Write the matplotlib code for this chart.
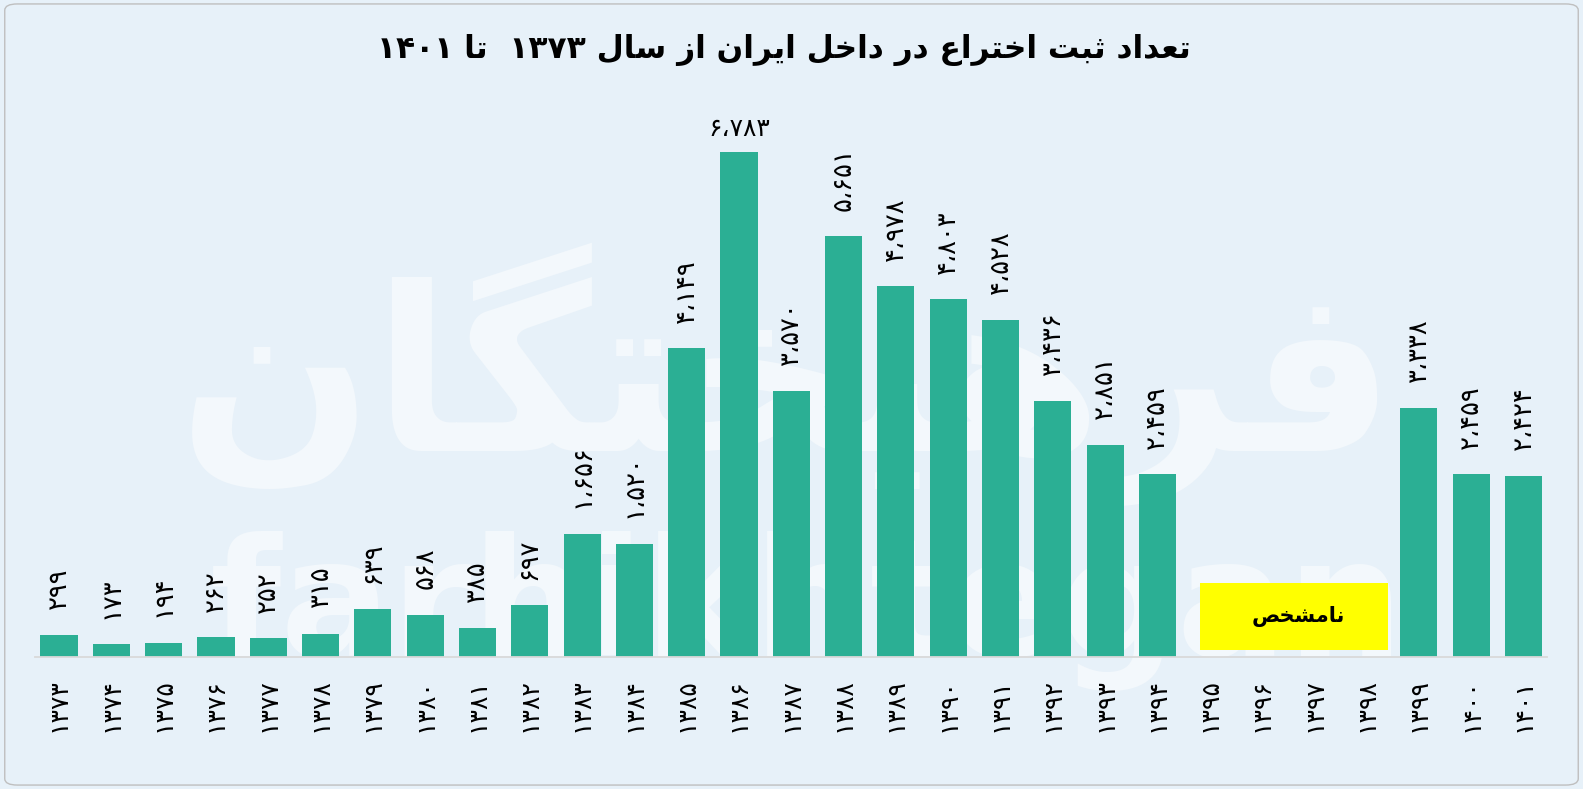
import matplotlib
matplotlib.use("Agg")
import matplotlib.pyplot as plt
from matplotlib.patches import FancyBboxPatch, Rectangle

# ---------------- data ----------------
years = ["۱۳۷۳", "۱۳۷۴", "۱۳۷۵", "۱۳۷۶", "۱۳۷۷", "۱۳۷۸", "۱۳۷۹", "۱۳۸۰", "۱۳۸۱", "۱۳۸۲",
         "۱۳۸۳", "۱۳۸۴", "۱۳۸۵", "۱۳۸۶", "۱۳۸۷", "۱۳۸۸", "۱۳۸۹", "۱۳۹۰", "۱۳۹۱", "۱۳۹۲",
         "۱۳۹۳", "۱۳۹۴", "۱۳۹۵", "۱۳۹۶", "۱۳۹۷", "۱۳۹۸", "۱۳۹۹", "۱۴۰۰", "۱۴۰۱"]
values = [299, 173, 194, 262, 252, 315, 639, 568, 385, 697,
          1656, 1520, 4149, 6783, 3570, 5651, 4978, 4803, 4528, 3436,
          2851, 2459, None, None, None, None, 3338, 2459, 2434]
value_labels = ["۲۹۹", "۱۷۳", "۱۹۴", "۲۶۲", "۲۵۲", "۳۱۵", "۶۳۹", "۵۶۸", "۳۸۵", "۶۹۷",
                "۱،۶۵۶", "۱،۵۲۰", "۴،۱۴۹", "۶،۷۸۳", "۳،۵۷۰", "۵،۶۵۱", "۴،۹۷۸", "۴،۸۰۳", "۴،۵۲۸", "۳،۴۳۶",
                "۲،۸۵۱", "۲،۴۵۹", "", "", "", "", "۳،۳۳۸", "۲،۴۵۹", "۲،۴۲۴"]
title_text = "تعداد ثبت اختراع در داخل ایران از سال ۱۳۷۳  تا ۱۴۰۱"
unknown_text = "نامشخص"
unknown_span = ("۱۳۹۵", "۱۳۹۸")
watermark_fa = "فرهیختگان"
watermark_en = "farhikhtegan"

# ---------------- minimal Persian shaping ----------------
FORMS = {
    'ا': ('\uFE8D', '\uFE8E', None, None),
    'آ': ('\uFE81', '\uFE82', None, None),
    'ب': ('\uFE8F', '\uFE90', '\uFE91', '\uFE92'),
    'ت': ('\uFE95', '\uFE96', '\uFE97', '\uFE98'),
    'ث': ('\uFE99', '\uFE9A', '\uFE9B', '\uFE9C'),
    'ح': ('\uFEA1', '\uFEA2', '\uFEA3', '\uFEA4'),
    'خ': ('\uFEA5', '\uFEA6', '\uFEA7', '\uFEA8'),
    'د': ('\uFEA9', '\uFEAA', None, None),
    'ر': ('\uFEAD', '\uFEAE', None, None),
    'ز': ('\uFEAF', '\uFEB0', None, None),
    'س': ('\uFEB1', '\uFEB2', '\uFEB3', '\uFEB4'),
    'ش': ('\uFEB5', '\uFEB6', '\uFEB7', '\uFEB8'),
    'ص': ('\uFEB9', '\uFEBA', '\uFEBB', '\uFEBC'),
    'ع': ('\uFEC9', '\uFECA', '\uFECB', '\uFECC'),
    'ف': ('\uFED1', '\uFED2', '\uFED3', '\uFED4'),
    'ل': ('\uFEDD', '\uFEDE', '\uFEDF', '\uFEE0'),
    'م': ('\uFEE1', '\uFEE2', '\uFEE3', '\uFEE4'),
    'ن': ('\uFEE5', '\uFEE6', '\uFEE7', '\uFEE8'),
    'ه': ('\uFEE9', '\uFEEA', '\uFEEB', '\uFEEC'),
    'ی': ('\uFBFC', '\uFBFD', '\uFBFE', '\uFBFF'),
    'ک': ('\uFB8E', '\uFB8F', '\uFB90', '\uFB91'),
    'گ': ('\uFB92', '\uFB93', '\uFB94', '\uFB95'),
}


def shape_word(w):
    if not any(c in FORMS for c in w):
        return w
    out = []
    for i, c in enumerate(w):
        if c not in FORMS:
            out.append(c)
            continue
        prev = w[i - 1] if i > 0 else None
        nxt = w[i + 1] if i + 1 < len(w) else None
        jp = prev in FORMS and FORMS[prev][2] is not None
        jn = nxt in FORMS and FORMS[c][2] is not None
        iso, fin, ini, med = FORMS[c]
        if jp and jn:
            out.append(med)
        elif jp:
            out.append(fin)
        elif jn:
            out.append(ini)
        else:
            out.append(iso)
    return ''.join(reversed(out))


def rtl(text):
    return ' '.join(shape_word(w) for w in reversed(text.split(' ')))


# ---------------- figure ----------------
BG = "#E7F1F9"
BAR = "#2BAF94"
WM = "#F3F8FC"
plt.rcParams['font.family'] = ['DejaVu Sans']

fig = plt.figure(figsize=(15.83, 7.89), dpi=100)
fig.patch.set_facecolor(BG)
fig.patches.append(FancyBboxPatch((0.003, 0.005), 0.994, 0.99, boxstyle="round,pad=0,rounding_size=0.008",
                                  transform=fig.transFigure, facecolor="none", edgecolor="#BFBFBF",
                                  linewidth=1.0, zorder=0))

ax = fig.add_axes([0.0221, 0.1673, 0.9552, 0.706])
ax.set_facecolor("none")
x = list(range(len(years)))

# watermark (behind the bars)
ax.text(0.497, 0.525, rtl(watermark_fa), transform=fig.transFigure, fontsize=165, fontweight='bold',
        color=WM, ha='center', va='center', zorder=1)
ax.text(0.51, 0.225, watermark_en, transform=fig.transFigure, fontsize=118, fontweight='bold',
        color=WM, ha='center', va='center', zorder=1)

heights = [v if v is not None else 0 for v in values]
ax.bar(x, heights, width=0.71, color=BAR, zorder=2)

ymax = 7480
ax.set_ylim(0, ymax)
ax.set_xlim(-0.46, 28.45)

vmax = max(v for v in values if v is not None)
for xi, v, lab in zip(x, values, value_labels):
    if v is None:
        continue
    if v == vmax:
        ax.text(xi, v + 140, lab, ha='center', va='bottom', fontsize=18, color='black', zorder=3)
    else:
        ax.text(xi, v + 340, lab, ha='center', va='bottom', rotation=90, fontsize=18.5,
                color='black', zorder=3)

# unknown box
i0 = years.index(unknown_span[0])
i1 = years.index(unknown_span[1])
box = Rectangle((i0 - 0.18, 94), (i1 - i0) + 0.59, 900, facecolor='#FFFF00', edgecolor='none', zorder=2.5)
ax.add_patch(box)
ax.text((i0 + i1) / 2 + 0.2, 545, rtl(unknown_text), ha='center', va='center', fontsize=15,
        fontweight='bold', color='black', zorder=3)

ax.set_xticks(x)
ax.set_xticklabels(years, rotation=90, fontsize=18, va='top', ha='center')
ax.tick_params(axis='x', length=0, pad=15)
ax.set_yticks([])
for s in ['left', 'right', 'top']:
    ax.spines[s].set_visible(False)
ax.spines['bottom'].set_color('#D9D9D9')
ax.spines['bottom'].set_linewidth(1.3)

fig.text(0.495, 0.937, rtl(title_text), ha='center', va='center', fontsize=22.5, fontweight='bold',
         color='black')

fig.savefig("out.png", dpi=100, facecolor=BG)
